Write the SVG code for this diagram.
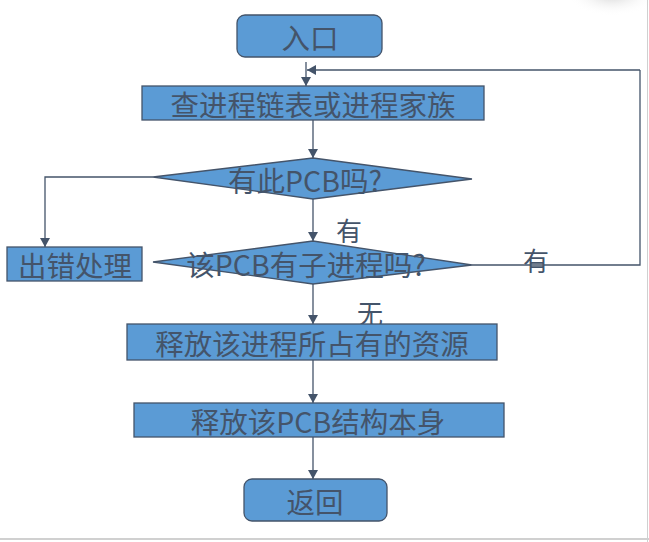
<svg xmlns="http://www.w3.org/2000/svg" width="649" height="542" viewBox="0 0 649 542">
<style>
.n{fill:#5B9BD5;stroke:#44546A;stroke-width:1.3}
.t{font-family:"Noto Sans CJK SC","Noto Sans",sans-serif;font-size:28.5px;fill:#44546A;text-anchor:middle;dominant-baseline:central}
.l{font-family:"Noto Sans CJK SC","Noto Sans",sans-serif;font-size:26px;fill:#44546A;text-anchor:middle;dominant-baseline:central}
.c{fill:none;stroke:#44546A;stroke-width:1.3}
</style>
<defs>
<marker id="ah" markerWidth="10" markerHeight="10" refX="9" refY="5" orient="auto" markerUnits="userSpaceOnUse">
<path d="M0,0 L9,5 L0,10 Z" fill="#44546A"/>
</marker>
<radialGradient id="sh" cx="0.5" cy="0.5" r="0.5">
<stop offset="0" stop-color="#c8c8c8" stop-opacity="0.8"/>
<stop offset="1" stop-color="#ffffff" stop-opacity="0"/>
</radialGradient>
</defs>
<rect width="649" height="542" fill="#ffffff"/>
<ellipse cx="612" cy="-6" rx="45" ry="22" fill="url(#sh)"/>
<line x1="647.5" y1="0" x2="647.5" y2="542" stroke="#d0d0d0" stroke-width="1"/>
<line x1="0" y1="539" x2="649" y2="539" stroke="#d0d0d0" stroke-width="2"/>
<g id="connectors">
<path class="c" d="M306,62 V86" marker-end="url(#ah)"/>
<path class="c" d="M640,70 H307" marker-end="url(#ah)"/>
<path class="c" d="M313,120 V158" marker-end="url(#ah)"/>
<path class="c" d="M153,177 H45 V247" marker-end="url(#ah)"/>
<path class="c" d="M313,199 V241" marker-end="url(#ah)"/>
<path class="c" d="M472,265 H640 V70"/>
<path class="c" d="M313,284 V324" marker-end="url(#ah)"/>
<path class="c" d="M313,360 V403" marker-end="url(#ah)"/>
<path class="c" d="M313,437 V479" marker-end="url(#ah)"/>
<text class="l" x="349" y="229">有</text>
<text class="l" x="536" y="259">有</text>
<text class="l" x="370" y="312">无</text>
</g>
<g id="entry">
<rect class="n" x="237" y="15" width="145" height="42" rx="8"/>
<text class="t" x="310" y="36">入口</text>
</g>
<g id="lookup">
<rect class="n" x="142" y="86" width="342" height="34"/>
<text class="t" x="313" y="103">查进程链表或进程家族</text>
</g>
<g id="hasPCB">
<polygon class="n" points="153,177 313,158 472,179 313,199"/>
<text class="t" x="305" y="179">有此PCB吗?</text>
</g>
<g id="error">
<rect class="n" x="7" y="247" width="135" height="34"/>
<text class="t" x="75" y="264">出错处理</text>
</g>
<g id="hasChild">
<polygon class="n" points="153,262 313,241 472,265 313,284"/>
<text class="t" x="306" y="263">该PCB有子进程吗?</text>
</g>
<g id="releaseRes">
<rect class="n" x="127" y="324" width="370" height="36"/>
<text class="t" x="312" y="342">释放该进程所占有的资源</text>
</g>
<g id="releasePCB">
<rect class="n" x="134" y="403" width="370" height="34"/>
<text class="t" x="318" y="420">释放该PCB结构本身</text>
</g>
<g id="return">
<rect class="n" x="244" y="479" width="143" height="42" rx="8"/>
<text class="t" x="315" y="500">返回</text>
</g>
</svg>
